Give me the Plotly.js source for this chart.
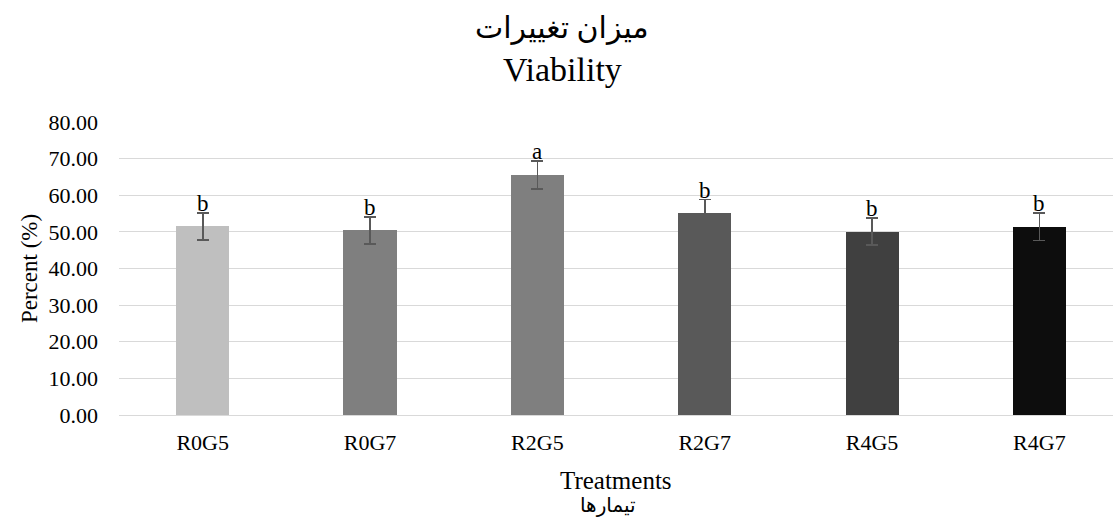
<!DOCTYPE html>
<html>
<head>
<meta charset="utf-8">
<script src="https://cdn.plot.ly/plotly-3.0.1.min.js"></script>
<style>html,body{margin:0;padding:0;background:#fff;}#chart{width:1113px;height:521px;}</style>
</head>
<body>
<div id="chart"></div>
<script>
const categories = ["R0G5", "R0G7", "R2G5", "R2G7", "R4G5", "R4G7"];
const values = [51.5, 50.4, 65.6, 55.1, 50.1, 51.4];
const errors = [3.75, 3.7, 3.8, 3.7, 3.7, 3.75];
const letters = ["b", "b", "a", "b", "b", "b"];
const barColors = ["#bfbfbf", "#7f7f7f", "#7f7f7f", "#595959", "#404040", "#0d0d0d"];
const yTicks = [0, 10, 20, 30, 40, 50, 60, 70, 80];
const titleLines = ["میزان تغییرات", "Viability"];
const xTitleLines = ["Treatments", "تیمارها"];

const serif = "'Liberation Serif', 'Times New Roman', 'DejaVu Sans', serif";

const trace = {
  type: "bar",
  x: categories,
  y: values,
  width: 0.317,
  marker: { color: barColors, line: { width: 0 } },
  error_y: { type: "data", array: errors, visible: true, color: "#595959", thickness: 1.7, width: 6 },
  hoverinfo: "none"
};

const letterAnn = categories.map((c, i) => ({
  x: c, y: values[i] + errors[i], xref: "x", yref: "y",
  text: letters[i], showarrow: false, yanchor: "bottom", yshift: -5,
  font: { family: serif, size: 23, color: "#000" }
}));

const textAnn = [
  { text: titleLines[0], x: 0.4457, y: 1.32, size: 30 },
  { text: titleLines[1], x: 0.4457, y: 1.18, size: 34 },
  { text: xTitleLines[0], x: 0.5, y: -0.222, size: 25 },
  { text: xTitleLines[1], x: 0.492, y: -0.31, size: 20 }
].map(a => ({
  text: a.text, x: a.x, y: a.y, xref: "paper", yref: "paper",
  xanchor: "center", yanchor: "middle", showarrow: false,
  font: { family: serif, size: a.size, color: "#000" }
}));

const layout = {
  width: 1113, height: 521,
  margin: { l: 119, r: 0, t: 122, b: 106 },
  paper_bgcolor: "#fff", plot_bgcolor: "#fff",
  showlegend: false,
  font: { family: serif, color: "#000", size: 22 },
  xaxis: {
    type: "category",
    range: [-0.5, 5.44],
    showgrid: false, zeroline: false, showline: false,
    ticks: "", ticklabelstandoff: 12,
    tickfont: { family: serif, size: 22, color: "#000" }
  },
  yaxis: {
    range: [0, 80],
    tickvals: yTicks,
    ticktext: yTicks.map(v => v.toFixed(2)),
    showgrid: true, gridcolor: "#d9d9d9", gridwidth: 1,
    zeroline: true, zerolinecolor: "#d9d9d9", zerolinewidth: 1,
    showline: false, ticks: "", ticklen: 0, ticklabelstandoff: 20,
    tickfont: { family: serif, size: 22, color: "#000" },
    title: { text: "Percent (%)", font: { family: serif, size: 23, color: "#000" }, standoff: 4 }
  },
  annotations: letterAnn.concat(textAnn),
  bargap: 0
};

Plotly.newPlot("chart", [trace], layout, { displayModeBar: false, staticPlot: true });
</script>
</body>
</html>
